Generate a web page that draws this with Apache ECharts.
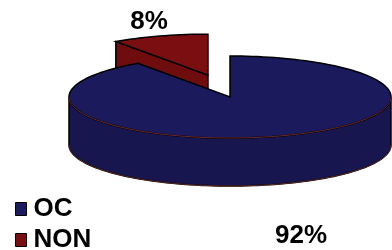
<!DOCTYPE html>
<html><head><meta charset="utf-8">
<script src="https://cdn.jsdelivr.net/npm/echarts@6/dist/echarts.min.js"></script>
<style>html,body{margin:0;padding:0;background:#fff}#c{width:392px;height:250px}</style>
</head><body><div id="c"></div>
<script>
// ---- data ----
const categories = ['OC', 'NON'];
const values = [92, 8];
const labelTexts = ['92%', '8%'];

// ---- style / layout (not data) ----
const sliceColors = { OC: '#1a1a5c', NON: '#7a0e10' };
const wallColors = { OC: '#17164f', NON: '#6e0c0e' };
const explode = { OC: 0, NON: 0.55 };
const labelPos = { OC: [301, 236], NON: [149, 22] };
const CX = 230, CY = 97, RX = 161, RY = 41, DEPTH = 48;
const WARP = 1.27; // 3D-view angle stretch (presentation only)

const total = values.reduce((a, b) => a + b, 0);
function warp(alpha) {
  const r = alpha * Math.PI / 180;
  let psi = Math.atan2(WARP * Math.sin(r), Math.cos(r)) * 180 / Math.PI;
  while (psi < alpha - 180) psi += 360;
  while (psi > alpha + 180) psi -= 360;
  return psi - 90;
}
const ranges = {}, mids = {};
(function () {
  let start = 0;
  categories.forEach((c, i) => {
    const span = values[i] / total * 360;
    ranges[c] = [warp(start), warp(start + span)];
    mids[c] = start + span / 2 - 90;
    start += span;
  });
})();

function pt(cx, cy, deg, dz) {
  const r = deg * Math.PI / 180;
  return [cx + RX * Math.cos(r), cy + RY * Math.sin(r) + (dz || 0)];
}
function arc(cx, cy, a, b, dz) {
  const pts = [];
  const n = Math.max(2, Math.ceil(Math.abs(b - a) / 2));
  for (let k = 0; k <= n; k++) pts.push(pt(cx, cy, a + (b - a) * k / n, dz));
  return pts;
}

function makeRender(cat) {
  return function (params, api) {
    const [a, b] = ranges[cat];
    const mid = mids[cat] * Math.PI / 180;
    const e = explode[cat];
    const cx = CX + e * RX * Math.cos(mid);
    const cy = CY + e * RY * Math.sin(mid);
    const fill = sliceColors[cat], wall = wallColors[cat];
    const children = [];
    const cosA = Math.cos(a * Math.PI / 180), cosB = Math.cos(b * Math.PI / 180);
    if (cosA < -1e-6) {
      const p = pt(cx, cy, a);
      children.push({ type: 'polygon', shape: { points: [[cx, cy], p, [p[0], p[1] + DEPTH], [cx, cy + DEPTH]] },
        style: { fill: wall, stroke: '#000', lineWidth: 1.5 } });
    }
    if (cosB > 1e-6) {
      const p = pt(cx, cy, b);
      children.push({ type: 'polygon', shape: { points: [[cx, cy], p, [p[0], p[1] + DEPTH], [cx, cy + DEPTH]] },
        style: { fill: wall, stroke: '#000', lineWidth: 1.5 } });
    }
    [[0, 180], [360, 540], [-360, -180]].forEach(([f0, f1]) => {
      const s = Math.max(a, f0), t = Math.min(b, f1);
      if (t > s) {
        const top = arc(cx, cy, s, t, 0);
        const bot = arc(cx, cy, s, t, DEPTH).reverse();
        children.push({ type: 'polygon', shape: { points: top.concat(bot) },
          style: { fill: wall, stroke: '#000', lineWidth: 1.5 } });
        children.push({ type: 'polyline', shape: { points: arc(cx, cy, s, t, DEPTH) },
          style: { fill: null, stroke: '#5a2a2a', lineWidth: 1 } });
      }
    });
    const topPts = [[cx, cy]].concat(arc(cx, cy, a, b, 0));
    children.push({ type: 'polygon', shape: { points: topPts },
      style: { fill: fill, stroke: '#000', lineWidth: 1.5, lineJoin: 'miter' } });
    [[0, 180], [360, 540]].forEach(([f0, f1]) => {
      const s = Math.max(a, f0), t = Math.min(b, f1);
      if (t > s) children.push({ type: 'polyline', shape: { points: arc(cx, cy, s, t, 0) },
        style: { fill: null, stroke: '#6a2a30', lineWidth: 1 } });
    });
    const i = categories.indexOf(cat);
    children.push({ type: 'text', style: { text: labelTexts[i], x: labelPos[cat][0], y: labelPos[cat][1],
      align: 'center', verticalAlign: 'middle', fill: '#000',
      font: 'bold 26px "Liberation Sans", Arial, sans-serif' } });
    return { type: 'group', children: children };
  };
}

const drawOrder = ['NON', 'OC'];
const chart = echarts.init(document.getElementById('c'), null, { renderer: 'canvas' });
chart.setOption({
  animation: false,
  backgroundColor: '#fff',
  legend: {
    data: categories,
    orient: 'vertical',
    left: 15, top: 196,
    height: 120,
    padding: 0,
    itemWidth: 11, itemHeight: 13, itemGap: 5,
    icon: 'rect',
    itemStyle: { borderColor: '#000', borderWidth: 1 },
    textStyle: { fontSize: 26, lineHeight: 26, fontWeight: 'bold', color: '#000',
      fontFamily: '"Liberation Sans", Arial, sans-serif', padding: [0, 0, 0, 2] }
  },
  series: drawOrder.map(cat => ({
    type: 'custom',
    name: cat,
    coordinateSystem: 'none',
    itemStyle: { color: sliceColors[cat] },
    data: [[values[categories.indexOf(cat)]]],
    renderItem: makeRender(cat)
  }))
});
</script></body></html>
